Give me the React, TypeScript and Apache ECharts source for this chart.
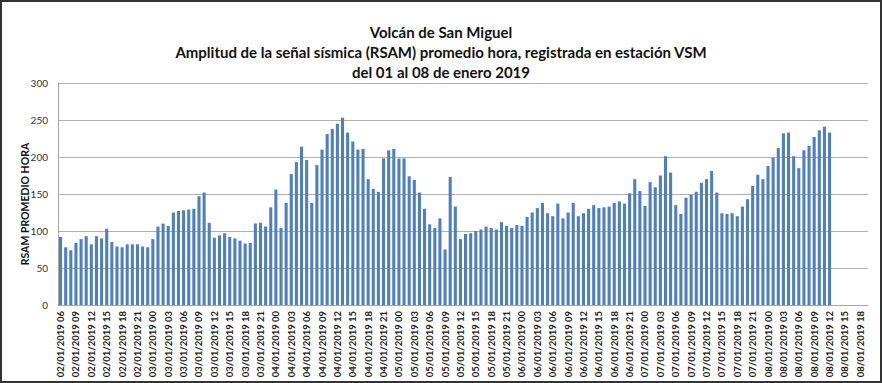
import React, { useEffect, useRef } from "react";
import * as echarts from "echarts";

const titleLines = [
  "Volcán de San Miguel",
  "Amplitud de la señal sísmica (RSAM) promedio hora, registrada en estación VSM",
  "del 01 al 08 de enero 2019",
];
const yAxisName = "RSAM PROMEDIO HORA";

// hourly categories from 02/01/2019 06 to 08/01/2019 19
const startDay = 2;
const startHour = 6;
const categoryCount = 158;

const rsam: number[] = [
  // 02/01 06 .. 03/01 17
  92, 78, 74, 84, 89, 93, 82, 93, 90, 103, 85, 79, 78, 82, 82, 82, 79, 78, 89, 106,
  110, 107, 125, 127, 128, 129, 130, 147, 152, 111, 91, 94, 97, 92, 90, 87,
  // 03/01 18 .. 05/01 10
  83, 84, 110, 111, 106, 132, 156, 104, 138, 177, 193, 214, 196, 138, 189, 210, 231,
  238, 245, 253, 233, 221, 210, 211, 170, 157, 153, 198, 209, 211, 198, 198, 174, 169,
  152, 130, 109, 104, 117, 75, 173,
  // 05/01 11 .. 06/01 22
  133, 89, 96, 97, 100, 102, 106, 104, 102, 112, 107, 104, 108, 107, 119, 125, 131,
  138, 124, 120, 137, 117, 125, 138, 120, 124, 130, 135, 131, 132, 133, 138, 140, 137,
  151, 170, 154, 134, 166, 159,
  // 06/01 23 .. 08/01 12
  175, 201, 179, 135, 123, 145, 149, 153, 165, 170, 181, 152, 124, 123, 124, 120, 133,
  143, 161, 176, 170, 188, 199, 212, 232, 233, 201, 185, 209, 215, 227, 236, 241, 233,
];

const yTicks = { min: 0, max: 300, interval: 50 };

function pad(n: number) {
  return n < 10 ? "0" + n : String(n);
}

const categories: string[] = [];
for (let i = 0; i < categoryCount; i++) {
  const h = startHour + i;
  const d = startDay + Math.floor(h / 24);
  categories.push(`${pad(d)}/01/2019 ${pad(h % 24)}`);
}

export default function App() {
  const ref = useRef<HTMLDivElement>(null);
  useEffect(() => {
    if (!ref.current) return;
    const chart = echarts.init(ref.current, undefined, { renderer: "svg" });
    chart.setOption({
      animation: false,
      backgroundColor: "#ffffff",
      textStyle: { fontFamily: "Lato" },
      title: {
        text: titleLines.join("\n"),
        left: "center",
        top: 17,
        textStyle: {
          fontFamily: "Lato",
          fontSize: 15,
          fontWeight: "bold",
          color: "#111",
          lineHeight: 20,
        },
      },
      grid: { left: 58, right: 14, top: 83, bottom: 78, containLabel: false },
      xAxis: {
        type: "category",
        data: categories,
        axisLine: { lineStyle: { color: "#a6a6a6" } },
        axisTick: { show: false },
        axisLabel: {
          interval: 2,
          rotate: 90,
          fontSize: 9.5,
          fontWeight: "bold",
          color: "#1a1a1a",
          margin: 6,
          fontFamily: "Lato",
        },
      },
      yAxis: {
        type: "value",
        min: yTicks.min,
        max: yTicks.max,
        interval: yTicks.interval,
        axisLine: { show: true, lineStyle: { color: "#a6a6a6" } },
        axisTick: { show: false },
        splitLine: { lineStyle: { color: "#b0b0b0" } },
        axisLabel: { fontSize: 10, color: "#333", margin: 10, fontFamily: "Lato" },
      },
      series: [
        {
          type: "bar",
          data: rsam,
          barCategoryGap: "40%",
          itemStyle: { color: "#4f7fbd" },
        },
      ],
      graphic: [
        {
          type: "text",
          x: 25,
          y: 204,
          rotation: Math.PI / 2,
          style: {
            text: yAxisName,
            fontFamily: "Lato",
            fontSize: 10.5,
            fontWeight: "bold",
            fill: "#111",
            align: "center",
            verticalAlign: "middle",
          },
          silent: true,
        },
        {
          type: "rect",
          shape: { x: 1, y: 1, width: 880, height: 381 },
          style: { fill: "none", stroke: "#333", lineWidth: 2 },
          silent: true,
        },
      ],
    });
    return () => chart.dispose();
  }, []);
  return (
    <div
      ref={ref}
      style={{ position: "fixed", left: 0, top: 0, width: 882, height: 383 }}
    />
  );
}
